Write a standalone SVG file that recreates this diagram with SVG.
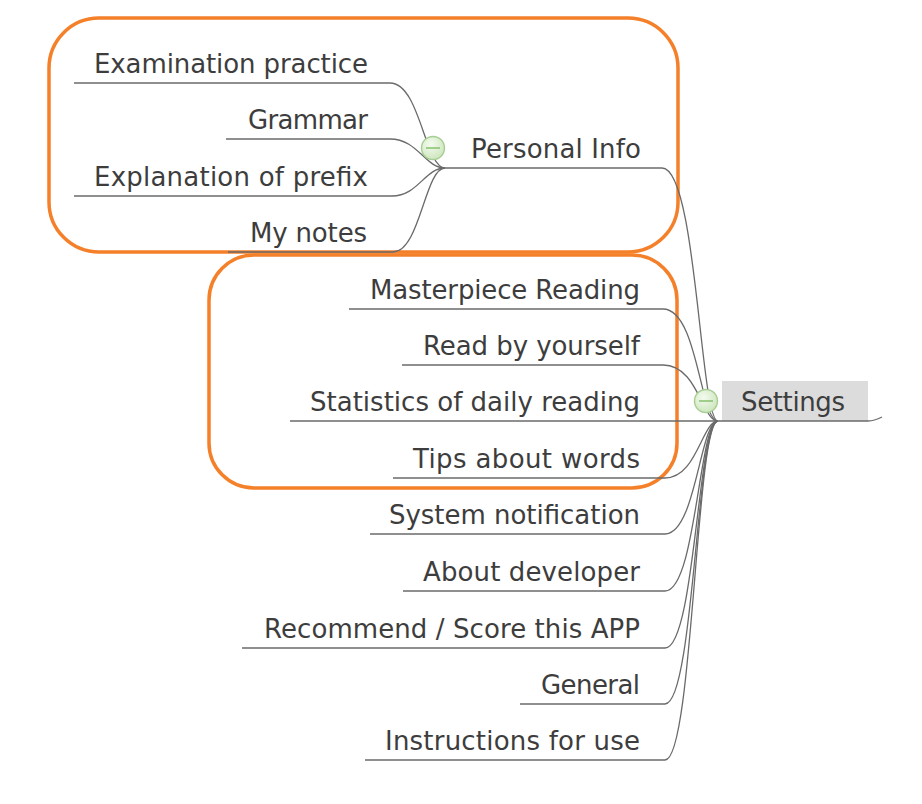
<svg xmlns="http://www.w3.org/2000/svg" width="922" height="804" viewBox="0 0 922 804">
<defs>
<radialGradient id="cg" cx="0.4" cy="0.35" r="0.7">
<stop offset="0" stop-color="#f4fbef"/>
<stop offset="1" stop-color="#cce5bc"/>
</radialGradient>
</defs>
<style>
.t{font-family:"DejaVu Sans","Liberation Sans",sans-serif;font-size:26px;fill:#3d3d3d;text-anchor:end}
.u{stroke:#6a6a6a;stroke-width:1.3;fill:none}
.c{stroke:#6a6a6a;stroke-width:1.3;fill:none}
.b{stroke:#f5802a;stroke-width:3.5;fill:none}
.k{fill:url(#cg);stroke:#a6ce92;stroke-width:1.4}
.m{stroke:#86c06e;stroke-width:1.5}
</style>
<rect width="922" height="804" fill="#ffffff"/>
<g id="boundaries">
<rect class="b" x="49" y="18" width="629" height="234" rx="50"/>
<rect class="b" x="209" y="255" width="468" height="233" rx="45"/>
</g>
<g id="connectors">
<path class="c" d="M390,83 C420,83 425,168 445,168"/>
<path class="c" d="M390,139 C418,139 425,168 445,168"/>
<path class="c" d="M392,196 C418,196 425,168 445,168"/>
<path class="c" d="M393,252 C420,252 425,168 445,168"/>
<path class="c" d="M662,168 C697,168 700,421 718,421"/>
<path class="c" d="M663,309 C698,309 700,421 718,421"/>
<path class="c" d="M663,365 C698,365 702,421 718,421"/>
<path class="c" d="M665,478 C697,478 702,421 718,421"/>
<path class="c" d="M665,534 C696,534 700,421 718,421"/>
<path class="c" d="M665,591 C696,591 699,421 718,421"/>
<path class="c" d="M665,648 C695,648 698,421 718,421"/>
<path class="c" d="M665,704 C694,704 697,421 718,421"/>
<path class="c" d="M665,760 C693,760 696,421 718,421"/>
<path class="c" d="M868,421 C874,421 878,419 882,417"/>
</g>
<g id="settings">
<rect x="722" y="381" width="146" height="40" fill="#dcdcdd"/>
<line class="u" x1="718" y1="421" x2="868" y2="421"/>
<text class="t" x="845" y="411" textLength="104" lengthAdjust="spacing">Settings</text>
<circle class="k" cx="706" cy="401" r="11.5"/>
<line class="m" x1="699" y1="401" x2="713" y2="401"/>
</g>
<g id="personal-info">
<line class="u" x1="445" y1="168" x2="662" y2="168"/>
<text class="t" x="641" y="158" textLength="170" lengthAdjust="spacing">Personal Info</text>
<circle class="k" cx="433" cy="148" r="11.5"/>
<line class="m" x1="426" y1="148" x2="440" y2="148"/>
</g>
<g id="examination-practice">
<line class="u" x1="74" y1="83" x2="390" y2="83"/>
<text class="t" x="368" y="73" textLength="274" lengthAdjust="spacing">Examination practice</text>
</g>
<g id="grammar">
<line class="u" x1="226" y1="139" x2="390" y2="139"/>
<text class="t" x="368" y="129" textLength="120" lengthAdjust="spacing">Grammar</text>
</g>
<g id="explanation-of-prefix">
<line class="u" x1="74" y1="196" x2="392" y2="196"/>
<text class="t" x="368" y="186" textLength="274" lengthAdjust="spacing">Explanation of prefix</text>
</g>
<g id="my-notes">
<line class="u" x1="228" y1="252" x2="393" y2="252"/>
<text class="t" x="367" y="242" textLength="117" lengthAdjust="spacing">My notes</text>
</g>
<g id="masterpiece-reading">
<line class="u" x1="349" y1="309" x2="663" y2="309"/>
<text class="t" x="640" y="299" textLength="270" lengthAdjust="spacing">Masterpiece Reading</text>
</g>
<g id="read-by-yourself">
<line class="u" x1="402" y1="365" x2="663" y2="365"/>
<text class="t" x="640" y="355" textLength="217" lengthAdjust="spacing">Read by yourself</text>
</g>
<g id="statistics-of-daily-reading">
<line class="u" x1="290" y1="421" x2="718" y2="421"/>
<text class="t" x="640" y="411" textLength="330" lengthAdjust="spacing">Statistics of daily reading</text>
</g>
<g id="tips-about-words">
<line class="u" x1="393" y1="478" x2="665" y2="478"/>
<text class="t" x="640" y="468" textLength="227" lengthAdjust="spacing">Tips about words</text>
</g>
<g id="system-notification">
<line class="u" x1="370" y1="534" x2="665" y2="534"/>
<text class="t" x="640" y="524" textLength="251" lengthAdjust="spacing">System notification</text>
</g>
<g id="about-developer">
<line class="u" x1="403" y1="591" x2="665" y2="591"/>
<text class="t" x="640" y="581" textLength="217" lengthAdjust="spacing">About developer</text>
</g>
<g id="recommend-score">
<line class="u" x1="242" y1="648" x2="665" y2="648"/>
<text class="t" x="640" y="638" textLength="376" lengthAdjust="spacing">Recommend / Score this APP</text>
</g>
<g id="general">
<line class="u" x1="520" y1="704" x2="665" y2="704"/>
<text class="t" x="640" y="694" textLength="99" lengthAdjust="spacing">General</text>
</g>
<g id="instructions-for-use">
<line class="u" x1="365" y1="760" x2="665" y2="760"/>
<text class="t" x="640" y="750" textLength="255" lengthAdjust="spacing">Instructions for use</text>
</g>
</svg>
